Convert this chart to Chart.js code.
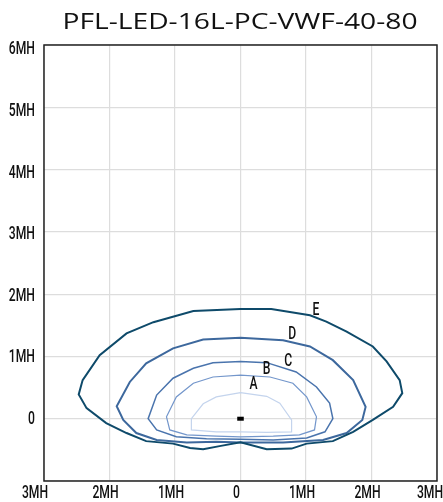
<!DOCTYPE html>
<html>
<head>
<meta charset="utf-8">
<script src="https://cdn.jsdelivr.net/npm/chart.js@4"></script>
<style>
  html, body { margin: 0; padding: 0; background: #fff; }
  #wrap { width: 443px; height: 502px; position: relative; }
</style>
</head>
<body>
<div id="wrap"><canvas id="isoChart"></canvas></div>
<script>
// contour outlines in mounting heights (MH)
const eX = [0, 0.47, 1.06, 1.31, 1.62, 2.02, 2.23, 2.43, 2.47, 2.33, 2.02, 1.72, 1.41, 1.01, 0.78, 0.40, 0, -0.32, -0.57, -0.77, -1.03, -1.44, -1.74, -2.05, -2.35, -2.47, -2.41, -2.15, -1.74, -1.33, -0.72, 0];
const eY = [1.76, 1.76, 1.66, 1.56, 1.40, 1.16, 0.92, 0.62, 0.41, 0.19, -0.02, -0.21, -0.36, -0.40, -0.48, -0.49, -0.38, -0.44, -0.49, -0.47, -0.40, -0.36, -0.23, -0.07, 0.17, 0.39, 0.62, 1.02, 1.37, 1.55, 1.73, 1.76];

const dX = [0, 0.65, 1.06, 1.41, 1.72, 1.91, 1.86, 1.62, 1.26, 0.65, 0, -0.37, -0.82, -1.28, -1.59, -1.79, -1.89, -1.69, -1.44, -1.03, -0.57, 0];
const dY = [1.30, 1.26, 1.16, 0.94, 0.62, 0.19, -0.02, -0.23, -0.34, -0.38, -0.38, -0.37, -0.38, -0.34, -0.23, -0.02, 0.20, 0.59, 0.89, 1.13, 1.27, 1.30];

const cX = [0, 0.40, 0.85, 1.16, 1.36, 1.41, 1.29, 1.01, 0.50, 0, -0.52, -0.98, -1.28, -1.41, -1.28, -1.03, -0.72, -0.42, 0];
const cY = [0.92, 0.90, 0.75, 0.51, 0.25, 0.00, -0.21, -0.31, -0.34, -0.33, -0.32, -0.29, -0.18, 0.00, 0.38, 0.65, 0.81, 0.90, 0.92];

const bX = [0, 0.45, 0.80, 1.01, 1.16, 1.13, 0.90, 0.50, 0, -0.37, -0.82, -1.08, -1.13, -0.98, -0.72, -0.42, 0];
const bY = [0.70, 0.67, 0.57, 0.35, 0.03, -0.18, -0.26, -0.28, -0.29, -0.28, -0.26, -0.18, 0.03, 0.35, 0.57, 0.67, 0.70];

const aX = [0, 0.40, 0.60, 0.78, 0.78, 0.40, 0, -0.37, -0.75, -0.75, -0.57, -0.37, 0];
const aY = [0.42, 0.36, 0.25, -0.02, -0.21, -0.22, -0.21, -0.21, -0.18, 0.00, 0.24, 0.35, 0.42];

// label positions for each contour
const labelNames = ['A', 'B', 'C', 'D', 'E'];
const labelX = [0.20, 0.40, 0.73, 0.79, 1.15];
const labelY = [0.56, 0.80, 0.93, 1.36, 1.74];

// fixture marker
const fixtureX = [-0.05, 0.05];
const fixtureY = [0, 0];

const xTicks = [-3, -2, -1, 0, 1, 2, 3];
const yTicks = [0, 1, 2, 3, 4, 5, 6];
const chartTitle = 'PFL-LED-16L-PC-VWF-40-80';

function pts(xs, ys) {
    return xs.map((x, i) => ({ x: x, y: ys[i] }));
}

function mhLabel(v) {
    if (v === 0) return '0';
    return Math.abs(v) + 'MH';
}

// the original uses a condensed face, so squeeze a normal one
function narrowText(ctx, text, x, y, squeeze) {
    ctx.save();
    ctx.translate(x, y);
    ctx.scale(squeeze, 1);
    ctx.fillText(text, 0, 0);
    ctx.restore();
}

const LABEL_FONT = "500 19px Roboto, 'Liberation Sans', sans-serif";
const SQUEEZE = 0.64;

const textLayer = {
    id: 'textLayer',
    afterDraw(chart) {
        const ctx = chart.ctx;
        const xs = chart.scales.x, ys = chart.scales.y;
        const a = chart.chartArea;
        ctx.save();
        ctx.fillStyle = '#111';
        ctx.font = LABEL_FONT;
        ctx.textBaseline = 'middle';

        // y tick labels
        ctx.textAlign = 'right';
        yTicks.forEach(v => {
            narrowText(ctx, mhLabel(v), a.left - 9, ys.getPixelForValue(v) + 0.7 * v + 0.5, SQUEEZE);
        });

        // x tick labels
        ctx.textAlign = 'center';
        xTicks.forEach((v, i) => {
            let px = xs.getPixelForValue(v) - 4;
            if (i === 0) px -= 5;
            if (i === xTicks.length - 1) px -= 3;
            narrowText(ctx, mhLabel(v), px, a.bottom + 12.5, SQUEEZE);
        });

        // contour letters
        labelNames.forEach((t, i) => {
            narrowText(ctx, t, xs.getPixelForValue(labelX[i]), ys.getPixelForValue(labelY[i]), SQUEEZE);
        });

        // title, stretched to the width it has in the original
        ctx.font = "500 21px 'Open Sans', 'DejaVu Sans', sans-serif";
        ctx.textBaseline = 'alphabetic';
        const w = ctx.measureText(chartTitle).width;
        narrowText(ctx, chartTitle, 240, 28.5, 355 / w);
        ctx.restore();

        // frame
        ctx.save();
        ctx.strokeStyle = '#222';
        ctx.lineWidth = 1.5;
        ctx.strokeRect(a.left, a.top, a.right - a.left, a.bottom - a.top);
        ctx.restore();
    }
};

function line(data, color, width) {
    return {
        data: data,
        showLine: true,
        borderColor: color,
        borderWidth: width,
        pointRadius: 0,
        fill: false,
        tension: 0
    };
}

new Chart(document.getElementById('isoChart'), {
    type: 'scatter',
    data: {
        datasets: [
            line(pts(eX, eY), '#0e4a6a', 2),
            line(pts(dX, dY), '#3d689d', 2),
            line(pts(cX, cY), '#4a74ad', 1.5),
            line(pts(bX, bY), '#7396cb', 1.2),
            line(pts(aX, aY), '#c4d4ed', 1.2),
            line(pts(fixtureX, fixtureY), '#000', 4)
        ]
    },
    options: {
        responsive: true,
        maintainAspectRatio: false,
        animation: false,
        layout: { padding: { left: 0, right: 6, top: 45, bottom: 0 } },
        plugins: {
            legend: { display: false },
            tooltip: { enabled: false },
            title: { display: false }
        },
        scales: {
            x: {
                type: 'linear',
                min: -3,
                max: 3,
                afterBuildTicks: s => { s.ticks = xTicks.map(v => ({ value: v })); },
                afterFit: s => { s.height = 21; },
                ticks: { display: false },
                grid: { color: '#dddddd', lineWidth: 1.2, drawTicks: false },
                border: { display: false }
            },
            y: {
                type: 'linear',
                min: -1,
                max: 6,
                afterBuildTicks: s => { s.ticks = [-1].concat(yTicks).map(v => ({ value: v })); },
                afterFit: s => { s.width = 44; },
                ticks: { display: false },
                grid: { color: '#dddddd', lineWidth: 1.2, drawTicks: false },
                border: { display: false }
            }
        }
    },
    plugins: [textLayer]
});
</script>
</body>
</html>
